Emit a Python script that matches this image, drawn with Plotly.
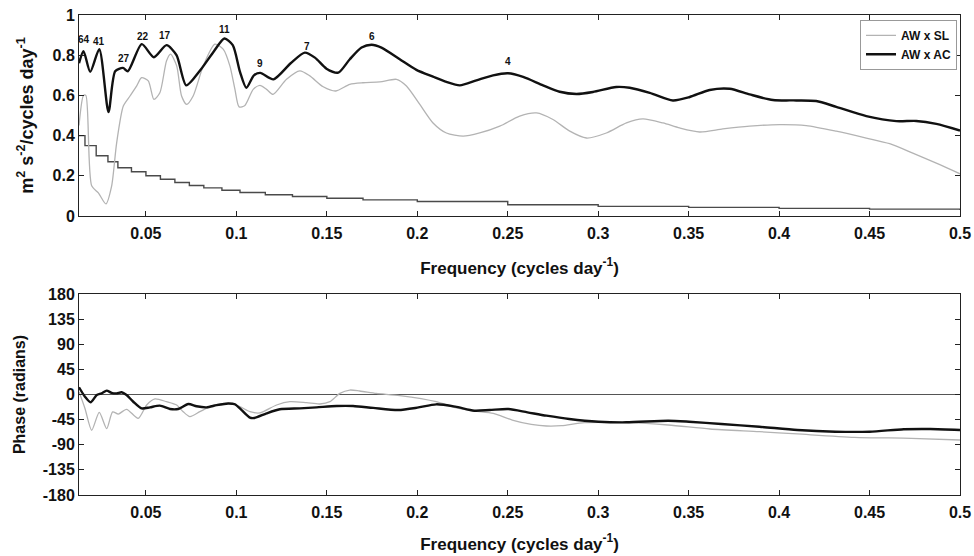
import plotly.graph_objects as go

# ---------------- data ----------------
# Coherence (top panel)
ac_f = [0.013, 0.0155, 0.0192, 0.0242, 0.0293, 0.033, 0.0373, 0.040, 0.0477, 0.0544,
        0.0614, 0.0669, 0.0723, 0.080, 0.0876, 0.0934, 0.098, 0.102, 0.1055, 0.1097,
        0.1132, 0.1205, 0.13, 0.1378, 0.1434, 0.1498, 0.1563, 0.1627, 0.1692, 0.1747,
        0.1802, 0.1903, 0.1995, 0.2087, 0.2161, 0.2235, 0.2327, 0.2419, 0.2502, 0.2585,
        0.2695, 0.2787, 0.288, 0.2971, 0.31, 0.3174, 0.3285, 0.3413, 0.3506, 0.3616,
        0.3727, 0.3837, 0.3966, 0.4095, 0.4205, 0.4316, 0.4482, 0.4648, 0.4758, 0.4869, 0.5]
ac_coh = [0.76, 0.82, 0.717, 0.83, 0.517, 0.72, 0.737, 0.72, 0.855, 0.79,
          0.85, 0.80, 0.65, 0.725, 0.82, 0.883, 0.85, 0.717, 0.638, 0.70,
          0.712, 0.68, 0.76, 0.813, 0.788, 0.733, 0.713, 0.78, 0.838, 0.852,
          0.838, 0.78, 0.727, 0.693, 0.667, 0.65, 0.675, 0.70, 0.71, 0.692,
          0.65, 0.618, 0.607, 0.617, 0.642, 0.638, 0.613, 0.575, 0.592, 0.627,
          0.633, 0.605, 0.577, 0.575, 0.572, 0.543, 0.497, 0.472, 0.473, 0.458, 0.425]

sl_f = [0.013, 0.0155, 0.0168, 0.020, 0.0237, 0.0279, 0.031, 0.0338, 0.0375, 0.0412,
        0.0449, 0.0476, 0.0513, 0.0544, 0.0577, 0.0614, 0.0636, 0.067, 0.0697, 0.0725,
        0.0761, 0.0817, 0.0881, 0.0927, 0.0964, 0.0992, 0.1015, 0.1047, 0.1093, 0.113,
        0.1167, 0.1203, 0.1277, 0.1351, 0.1406, 0.148, 0.155, 0.1627, 0.17, 0.1793,
        0.1885, 0.194, 0.2014, 0.2087, 0.2161, 0.2253, 0.2345, 0.2456, 0.2566, 0.2659,
        0.275, 0.2843, 0.2935, 0.3045, 0.3156, 0.3247, 0.3358, 0.345, 0.3561, 0.3689,
        0.3837, 0.4003, 0.415, 0.4316, 0.4482, 0.4611, 0.4739, 0.4869, 0.5]
sl_coh = [0.45, 0.6, 0.6, 0.15, 0.115, 0.06, 0.147, 0.363, 0.547, 0.597,
          0.647, 0.688, 0.672, 0.58, 0.613, 0.772, 0.805, 0.747, 0.597, 0.555,
          0.597, 0.747, 0.855, 0.83, 0.747, 0.63, 0.543, 0.55, 0.63, 0.65,
          0.63, 0.605, 0.68, 0.722, 0.697, 0.643, 0.622, 0.655, 0.663, 0.667,
          0.68, 0.647, 0.555, 0.463, 0.413, 0.397, 0.413, 0.447, 0.497, 0.513,
          0.48, 0.422, 0.388, 0.413, 0.463, 0.483, 0.463, 0.438, 0.418, 0.433,
          0.447, 0.455, 0.45, 0.422, 0.388, 0.36, 0.313, 0.263, 0.21]

# Significance level (stepped)
sig_f = [0.013, 0.0163, 0.0225, 0.029, 0.0345, 0.042, 0.050, 0.058, 0.066, 0.074,
         0.082, 0.092, 0.102, 0.116, 0.131, 0.15, 0.17, 0.2, 0.25, 0.3, 0.35, 0.4, 0.45, 0.5]
sig_coh = [0.40, 0.35, 0.30, 0.27, 0.24, 0.22, 0.20, 0.183, 0.167, 0.152,
           0.14, 0.128, 0.117, 0.106, 0.097, 0.088, 0.08, 0.072, 0.056, 0.048, 0.043, 0.038, 0.034, 0.03]

# Peak period labels (days)
peak_labels = ["64", "41", "27", "22", "17", "11", "9", "7", "6", "4"]
peak_f = [0.016, 0.0242, 0.0379, 0.0483, 0.0605, 0.0936, 0.113, 0.139, 0.1752, 0.2502]
peak_coh = [0.88, 0.87, 0.785, 0.895, 0.90, 0.93, 0.76, 0.845, 0.893, 0.767]

# Phase (bottom panel)
ac_pf = [0.013, 0.0163, 0.0194, 0.0228, 0.0255, 0.0283, 0.031, 0.0338, 0.0366, 0.0393,
         0.043, 0.0476, 0.0522, 0.0577, 0.0633, 0.0678, 0.0734, 0.078, 0.0835, 0.0891,
         0.0955, 0.0992, 0.1029, 0.1075, 0.11, 0.1167, 0.124, 0.1351, 0.1443, 0.1554,
         0.1645, 0.1756, 0.1895, 0.2, 0.2105, 0.221, 0.2315, 0.24, 0.2504, 0.2609,
         0.2714, 0.284, 0.3002, 0.3155, 0.3387, 0.3502, 0.3681, 0.3891, 0.4101, 0.4311,
         0.45, 0.4689, 0.4836, 0.5]
ac_phase = [13, -4, -14, -1, 2, 7, 3, 2, 4, -1,
            -13, -25, -23, -20, -26, -26, -17, -21, -23, -19,
            -16, -17.5, -28, -41.5, -42, -33.7, -26.5, -24.8, -23, -20.6,
            -20.6, -24, -27.8, -23.6, -17.6, -21.8, -29, -27.8, -26, -31.9,
            -37.9, -43.9, -48.7, -49.8, -46.9, -48.7, -52.8, -57.7, -63.6, -66.6,
            -66.6, -62.3, -61.8, -63.6]

sl_pf = [0.013, 0.0163, 0.020, 0.0242, 0.0283, 0.0316, 0.0347, 0.0393, 0.0457, 0.0504,
         0.055, 0.0614, 0.067, 0.0706, 0.0743, 0.0798, 0.0854, 0.0909, 0.0964, 0.1019,
         0.1075, 0.113, 0.1222, 0.1296, 0.1388, 0.1461, 0.1517, 0.1572, 0.1627, 0.1682,
         0.1774, 0.1903, 0.2105, 0.221, 0.2315, 0.242, 0.2525, 0.263, 0.2714, 0.2798,
         0.2924, 0.3155, 0.3387, 0.3618, 0.3891, 0.4101, 0.4416, 0.4731, 0.5]
sl_phase = [5, -25, -64, -32, -61, -31, -35, -26.5, -42.7, -18.8,
            -8, -12.9, -18.8, -30.8, -39.7, -30.8, -21.8, -17, -15.8, -21.8,
            -30.8, -33, -18.8, -12.9, -14.7, -17, -12.9, 2, 8, 6.3,
            2, -2, -12.9, -23.6, -29.6, -33.7, -45.7, -53.4, -56.4, -55.8,
            -50.5, -50.5, -54.6, -61.8, -66.6, -70.7, -76.7, -78.5, -81.5]

zero_f = [0.013, 0.5]
zero_phase = [0, 0]

x_ticks = [0.05, 0.1, 0.15, 0.2, 0.25, 0.3, 0.35, 0.4, 0.45, 0.5]
x_ticktext = ["0.05", "0.1", "0.15", "0.2", "0.25", "0.3", "0.35", "0.4", "0.45", "0.5"]
coh_ticks = [0, 0.2, 0.4, 0.6, 0.8, 1]
coh_ticktext = ["0", "0.2", "0.4", "0.6", "0.8", "1"]
phase_ticks = [-180, -135, -90, -45, 0, 45, 90, 135, 180]
phase_ticktext = ["-180", "-135", "-90", "-45", "0", "45", "90", "135", "180"]

# ---------------- figure ----------------
FONT = "Liberation Sans, Arial, sans-serif"
GRAY = "#b3b3b3"
BLACK = "#111111"

fig = go.Figure()

fig.add_trace(go.Scatter(x=sig_f, y=sig_coh, mode="lines", line=dict(color="#4a4a4a", width=1.4, shape="hv"),
                         showlegend=False, hoverinfo="skip", xaxis="x", yaxis="y"))
fig.add_trace(go.Scatter(x=sl_f, y=sl_coh, mode="lines", name="AW x SL",
                         line=dict(color=GRAY, width=1.3, shape="spline", smoothing=0.7),
                         xaxis="x", yaxis="y"))
fig.add_trace(go.Scatter(x=ac_f, y=ac_coh, mode="lines", name="AW x AC",
                         line=dict(color=BLACK, width=2.4, shape="spline", smoothing=0.7),
                         xaxis="x", yaxis="y"))

fig.add_trace(go.Scatter(x=zero_f, y=zero_phase, mode="lines", line=dict(color="#555555", width=1),
                         showlegend=False, hoverinfo="skip", xaxis="x2", yaxis="y2"))
fig.add_trace(go.Scatter(x=sl_pf, y=sl_phase, mode="lines", name="AW x SL",
                         line=dict(color=GRAY, width=1.3, shape="spline", smoothing=0.7),
                         showlegend=False, xaxis="x2", yaxis="y2"))
fig.add_trace(go.Scatter(x=ac_pf, y=ac_phase, mode="lines", name="AW x AC",
                         line=dict(color=BLACK, width=2.4, shape="spline", smoothing=0.7),
                         showlegend=False, xaxis="x2", yaxis="y2"))

for lab, fx, fy in zip(peak_labels, peak_f, peak_coh):
    fig.add_annotation(x=fx, y=fy, xref="x", yref="y", text=lab, showarrow=False,
                       font=dict(family=FONT, size=10, color="#111", weight="bold"))

tickfont = dict(family=FONT, size=16, color="#111", weight="bold")
xtitlefont = dict(family=FONT, size=17, color="#111", weight="bold")

common_x = dict(range=[0.013, 0.5], tickmode="array", tickvals=x_ticks, ticktext=x_ticktext,
                ticks="inside", ticklen=5, tickcolor="#222", showline=True, linecolor="#222",
                linewidth=1, mirror="ticks", showgrid=False, zeroline=False, tickfont=tickfont,
                automargin=False, ticklabelstandoff=3)
common_y = dict(ticks="inside", ticklen=5, tickcolor="#222", showline=True, linecolor="#222",
                linewidth=1, mirror="ticks", showgrid=False, zeroline=False, tickfont=tickfont,
                automargin=False, tickmode="array")

fig.update_layout(
    width=974, height=556,
    margin=dict(l=79, r=14, t=15, b=61),
    paper_bgcolor="white", plot_bgcolor="white",
    xaxis=dict(**common_x, domain=[0, 1], anchor="y",
               title=dict(text="Frequency (cycles day<sup>-1</sup>)", font=xtitlefont, standoff=20)),
    yaxis=dict(**common_y, range=[0, 1], domain=[0.58125, 1], anchor="x",
               tickvals=coh_ticks, ticktext=coh_ticktext,
               title=dict(text="m<sup>2</sup> s<sup>-2</sup>/cycles day<sup>-1</sup>",
                          font=dict(family=FONT, size=18, color="#111", weight="bold"), standoff=14)),
    xaxis2=dict(**common_x, domain=[0, 1], anchor="y2",
                title=dict(text="Frequency (cycles day<sup>-1</sup>)", font=xtitlefont, standoff=17)),
    yaxis2=dict(**common_y, range=[-180, 180], domain=[0, 0.41875], anchor="x2",
                tickvals=phase_ticks, ticktext=phase_ticktext,
                title=dict(text="Phase (radians)",
                           font=dict(family=FONT, size=16, color="#111", weight="bold"), standoff=13)),
    legend=dict(x=0.9966, y=0.99, xanchor="right", yanchor="top",
                bgcolor="white", bordercolor="#999", borderwidth=1,
                font=dict(family=FONT, size=12, color="#111", weight="bold"),
                itemwidth=30, tracegroupgap=0),
    showlegend=True,
)

# remove the browser's default page margin so the 974x556 figure fills the window exactly
fig.write_html("out.html", config={"displayModeBar": False},
               post_script="document.body.style.margin='0';document.body.style.overflow='hidden';")
